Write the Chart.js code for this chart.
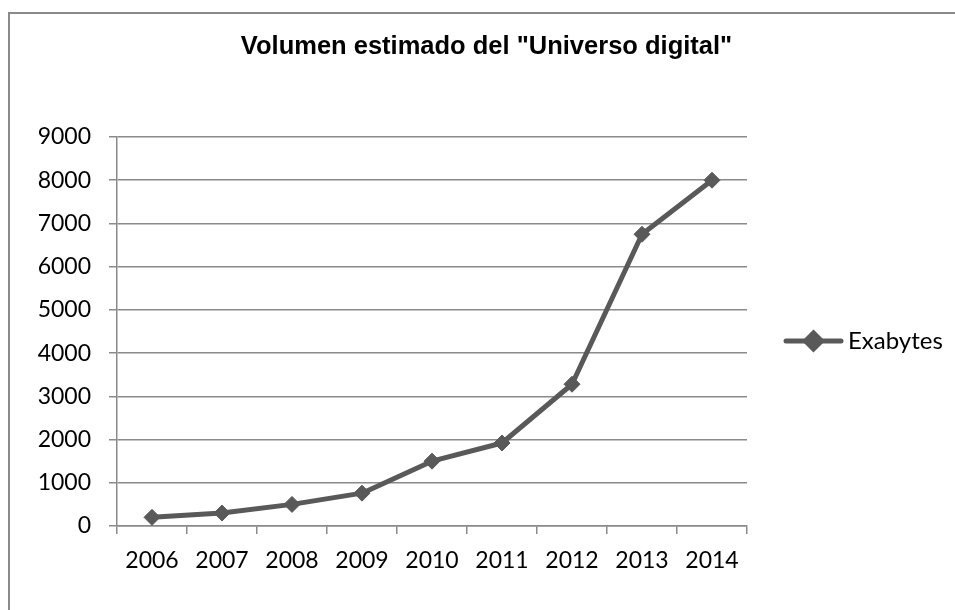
<!DOCTYPE html>
<html>
<head>
<meta charset="utf-8">
<title>Volumen estimado del "Universo digital"</title>
<script src="https://cdn.jsdelivr.net/npm/chart.js@4.4.1/dist/chart.umd.min.js"></script>
<style>
  html, body { margin: 0; padding: 0; background: #fff; overflow: hidden; }
  #frame {
    position: absolute; left: 8px; top: 12px;
    width: 1000px; height: 700px;
    border-left: 2px solid #8a8a8a; border-top: 2px solid #8a8a8a;
  }
  #myChart { position: absolute; left: 0; top: 0; }
</style>
</head>
<body>
<div id="frame"></div>
<canvas id="myChart" width="973" height="610"></canvas>
<script>
const chartTitle = 'Volumen estimado del "Universo digital"';
const years = ['2006', '2007', '2008', '2009', '2010', '2011', '2012', '2013', '2014'];
const exabytes = [200, 300, 500, 760, 1500, 1920, 3280, 6750, 8000];
const seriesName = 'Exabytes';

const lineColor = '#595959';
const gridColor = '#8a8a8a';
const tickFont = { family: 'Lato, "Open Sans", sans-serif', size: 23 };

// title and the single legend entry are painted by hand so they sit
// where the frame wants them, not where the box layout puts them
const headerPlugin = {
  id: 'header',
  afterDraw(chart) {
    const ctx = chart.ctx;
    const ds = chart.data.datasets[0];
    ctx.save();
    ctx.fillStyle = '#000';
    ctx.font = 'bold 25.5px "Liberation Sans", Arial, sans-serif';
    ctx.textAlign = 'center';
    ctx.textBaseline = 'middle';
    ctx.fillText(chartTitle, 486.5, 47);

    // legend: line + diamond + label
    const ly = 341;
    ctx.strokeStyle = ds.borderColor;
    ctx.lineWidth = ds.borderWidth;
    ctx.lineCap = 'round';
    ctx.beginPath();
    ctx.moveTo(786, ly);
    ctx.lineTo(841, ly);
    ctx.stroke();
    Chart.helpers.drawPoint(ctx, {
      pointStyle: 'rectRot', radius: ds.pointRadius, borderWidth: 1, rotation: 0
    }, 813.5, ly);
    ctx.fillStyle = ds.pointBackgroundColor;
    ctx.fill();

    ctx.fillStyle = '#000';
    ctx.font = '24px Lato, "Open Sans", sans-serif';
    ctx.textAlign = 'left';
    ctx.fillText(ds.label, 848, ly);
    ctx.restore();
  }
};

const ctx = document.getElementById('myChart').getContext('2d');

new Chart(ctx, {
  type: 'line',
  data: {
    labels: years,
    datasets: [{
      label: seriesName,
      data: exabytes,
      borderColor: lineColor,
      backgroundColor: lineColor,
      borderWidth: 5,
      borderCapStyle: 'round',
      borderJoinStyle: 'round',
      tension: 0,
      pointStyle: 'rectRot',
      pointRadius: 8,
      pointBackgroundColor: lineColor,
      pointBorderColor: lineColor,
      pointBorderWidth: 1
    }]
  },
  options: {
    responsive: false,
    animation: false,
    events: [],
    layout: { padding: { left: 0, right: 226, top: 137, bottom: 0 } },
    plugins: {
      legend: { display: false },
      title: { display: false },
      tooltip: { enabled: false }
    },
    scales: {
      x: {
        offset: true,
        grid: {
          offset: true,
          drawOnChartArea: false,
          drawTicks: true,
          tickLength: 8,
          color: gridColor,
          lineWidth: 1.5
        },
        border: { color: gridColor, width: 1.5 },
        ticks: { color: '#000', font: tickFont, padding: 13, maxRotation: 0 },
        afterFit(scale) { scale.height = 84; }
      },
      y: {
        min: 0,
        max: 9000,
        ticks: {
          stepSize: 1000,
          color: '#000',
          font: tickFont,
          padding: 18,
          callback: (v) => String(v)
        },
        grid: { color: gridColor, lineWidth: 1.5, tickLength: 8 },
        border: { color: gridColor, width: 1.5 },
        afterFit(scale) { scale.width = 117; }
      }
    }
  },
  plugins: [headerPlugin]
});
</script>
</body>
</html>
